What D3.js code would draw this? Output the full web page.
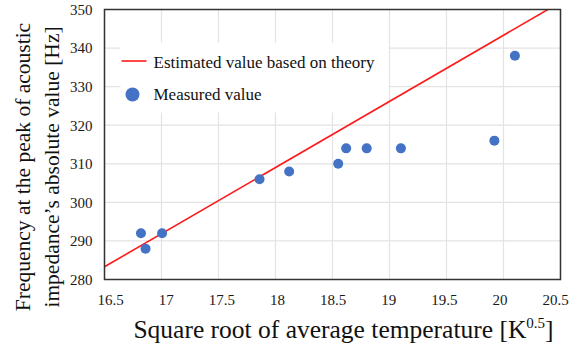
<!DOCTYPE html>
<html>
<head>
<meta charset="utf-8">
<script src="https://cdn.jsdelivr.net/npm/d3@7"></script>
<style>
  body { margin: 0; background: #fff; }
  svg { display: block; font-family: "Liberation Serif", "Times New Roman", serif; }
  svg text { font-family: "Liberation Serif", "Times New Roman", serif; }
</style>
</head>
<body>
<svg id="chart" width="572" height="350"></svg>
<script>
// measured points
const measuredX = [16.82, 16.86, 17.005, 17.86, 18.12, 18.55, 18.62, 18.80, 19.10, 19.92, 20.10];
const measuredY = [292, 288, 292, 306, 308, 310, 314, 314, 314, 316, 338];
// theory line (f proportional to sqrt(T))
const theoryX = [16.5, 20.5];
const theoryY = [283.3, 351.9];
const xTicks = [16.5, 17, 17.5, 18, 18.5, 19, 19.5, 20, 20.5];
const yTicks = [280, 290, 300, 310, 320, 330, 340, 350];

const svg = d3.select('#chart');
const margin = { left: 104.5, right: 11.5, top: 9.5, bottom: 70.5 };
const width = 572 - margin.left - margin.right;
const height = 350 - margin.top - margin.bottom;

const x = d3.scaleLinear().domain([16.5, 20.5]).range([0, width]);
const y = d3.scaleLinear().domain([280, 350]).range([height, 0]);
// tick labels in the original sit a little inside the gridlines
const xLabel = d3.scaleLinear().domain(x.domain()).range([5.5, width - 5.5]);

const g = svg.append('g').attr('transform', `translate(${margin.left},${margin.top})`);

g.append('defs').append('clipPath').attr('id', 'plotClip')
  .append('rect').attr('width', width).attr('height', height);

// grid
g.append('g').selectAll('line').data(xTicks).enter().append('line')
  .attr('x1', (d) => x(d)).attr('x2', (d) => x(d))
  .attr('y1', 0).attr('y2', height)
  .attr('stroke', '#e3e3e3').attr('stroke-width', 1.2);
g.append('g').selectAll('line').data(yTicks).enter().append('line')
  .attr('x1', 0).attr('x2', width)
  .attr('y1', (d) => y(d)).attr('y2', (d) => y(d))
  .attr('stroke', '#e3e3e3').attr('stroke-width', 1.2);

// legend background
g.append('rect').attr('x', 16).attr('y', 33).attr('width', 268).attr('height', 70).attr('fill', '#fff');

// theory line
const line = d3.line().x((d) => x(d[0])).y((d) => y(d[1]));
g.append('path')
  .datum(theoryX.map((v, i) => [v, theoryY[i]]))
  .attr('clip-path', 'url(#plotClip)')
  .attr('d', line)
  .attr('fill', 'none')
  .attr('stroke', '#ff1a1a')
  .attr('stroke-width', 1.6);

// measured points
g.append('g').selectAll('circle').data(measuredX).enter().append('circle')
  .attr('cx', (d) => x(d))
  .attr('cy', (d, i) => y(measuredY[i]))
  .attr('r', 5)
  .attr('fill', '#4472c4');

// frame
g.append('rect').attr('width', width).attr('height', height)
  .attr('fill', 'none').attr('stroke', '#333').attr('stroke-width', 1.5);

// axes
const xAxis = g.append('g').attr('transform', `translate(0,${height})`)
  .call(d3.axisBottom(xLabel).tickValues(xTicks).tickSize(0).tickPadding(15).tickFormat((d) => String(d)));
const yAxis = g.append('g')
  .call(d3.axisLeft(y).tickValues(yTicks).tickSize(0).tickPadding(12).tickFormat((d) => String(d)));
[xAxis, yAxis].forEach((a) => {
  a.attr('font-family', null).attr('font-size', null);
  a.select('.domain').remove();
  a.selectAll('text').style('font-family', '"Liberation Serif", serif').style('font-size', '15px').attr('fill', '#1a1a1a');
});

// legend
g.append('line').attr('x1', 17).attr('x2', 42).attr('y1', 51.5).attr('y2', 51.5)
  .attr('stroke', '#ff1a1a').attr('stroke-width', 1.6);
g.append('text').attr('x', 49).attr('y', 58).attr('font-size', 17).attr('fill', '#111')
  .text('Estimated value based on theory');
g.append('circle').attr('cx', 28).attr('cy', 85).attr('r', 7).attr('fill', '#4472c4');
g.append('text').attr('x', 49).attr('y', 90).attr('font-size', 17).attr('fill', '#111')
  .text('Measured value');

// axis titles
const xt = svg.append('text').attr('x', 343.5).attr('y', 338).attr('text-anchor', 'middle')
  .attr('font-size', 25.5).attr('fill', '#111');
xt.append('tspan').text('Square root of average temperature [K');
xt.append('tspan').attr('font-size', 15).attr('dy', -10).text('0.5');
xt.append('tspan').attr('dy', 10).text(']');

const yt = svg.append('text').attr('transform', 'translate(0,167) rotate(-90)')
  .attr('text-anchor', 'middle').attr('font-size', 21.5).attr('fill', '#111');
yt.append('tspan').attr('x', 0).attr('y', 30).text('Frequency at the peak of acoustic');
yt.append('tspan').attr('x', 0).attr('y', 59).text('impedance\u2019s absolute value [Hz]');
</script>
</body>
</html>
